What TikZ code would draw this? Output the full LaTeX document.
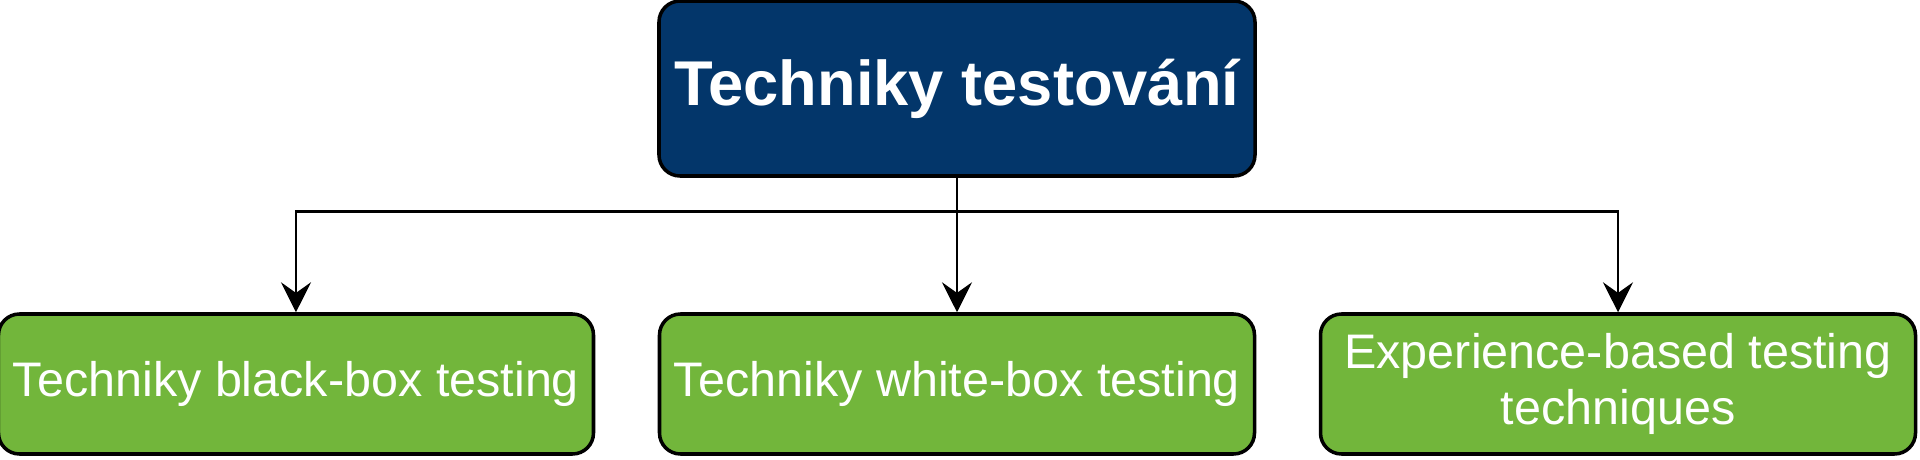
\documentclass[tikz,border=0pt]{standalone}
\usepackage{fontspec}
\setmainfont{Liberation Sans}
\usetikzlibrary{arrows.meta,calc}
\definecolor{navyblue}{HTML}{03366A}
\definecolor{leafgreen}{HTML}{72B63B}
\tikzset{
  level distance=2.955cm, level 1/.style={sibling distance=6.61cm},
  treenode/.style = {align=center, inner sep=0pt, text centered, rounded corners=0.21cm, draw=black, line width=1pt, text=white},
  tech_root/.style = {treenode, fill=navyblue, minimum width=5.96cm, minimum height=1.75cm, font=\fontsize{18}{21.6}\selectfont\bfseries},
  tech_leaf/.style = {treenode, fill=leafgreen, minimum width=5.95cm, minimum height=1.40cm, font=\fontsize{13.8}{16}\selectfont},
  edge from parent/.style = {draw, line width=0.8pt, -{Stealth[length=8.5pt,width=8.5pt,inset=3pt]}},
  edge from parent path = {(\tikzparentnode.south) -- ++(0,-0.34) -| (\tikzchildnode.north)}
}
\begin{document}
\begin{tikzpicture}
\useasboundingbox (-9.57,0.885) rectangle (9.63,-3.705);
\node [tech_root] (root) {Techniky testování}
	child{ node [tech_leaf] (black) {Techniky black-box testing}}
	child{ node [tech_leaf] (white) {Techniky white-box testing}}
	child{ node [tech_leaf] (exp) {Experience-based testing\\techniques}};
\end{tikzpicture}
\end{document}
